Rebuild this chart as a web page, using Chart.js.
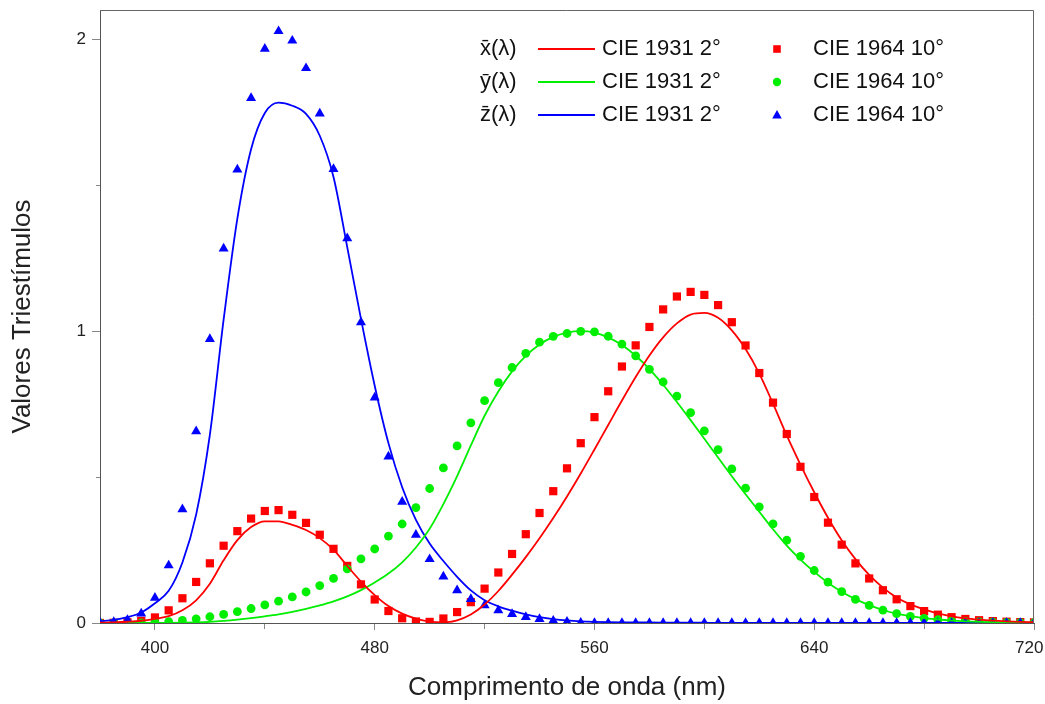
<!DOCTYPE html>
<html lang="pt">
    <head>
        <meta charset="UTF-8">
        <title>Funções de correspondência de cor CIE</title>
        <style>
            body {
                margin: 0;
                background-color: #ffffff;
            }

            #chart-container {
                position: relative;
                width: 1045px;
                height: 704px;
            }
        </style>
    </head>
    <body>
        <div id="chart-container">
            <canvas id="myChart" width="1045" height="704"></canvas>
        </div>
        <script src="https://cdn.jsdelivr.net/npm/chart.js"></script>
        <script>
            //comprimentos de onda (nm), passo de 5 nm
            let wavelengths = [380, 385, 390, 395, 400, 405, 410, 415, 420, 425, 430, 435, 440, 445, 450, 455, 460, 465, 470, 475,
                               480, 485, 490, 495, 500, 505, 510, 515, 520, 525, 530, 535, 540, 545, 550, 555, 560, 565, 570, 575,
                               580, 585, 590, 595, 600, 605, 610, 615, 620, 625, 630, 635, 640, 645, 650, 655, 660, 665, 670, 675,
                               680, 685, 690, 695, 700, 705, 710, 715, 720];

            //observador padrao CIE 1931 2 graus
            let xBar1931 = [0.001368, 0.002236, 0.004243, 0.007650, 0.014310, 0.023190, 0.043510, 0.077630, 0.134380, 0.214770,
                            0.283900, 0.328500, 0.348280, 0.348060, 0.336200, 0.318700, 0.290800, 0.251100, 0.195360, 0.142100,
                            0.095640, 0.057950, 0.032010, 0.014700, 0.004900, 0.002400, 0.009300, 0.029100, 0.063270, 0.109600,
                            0.165500, 0.225750, 0.290400, 0.359700, 0.433450, 0.512050, 0.594500, 0.678400, 0.762100, 0.842500,
                            0.916300, 0.978600, 1.026300, 1.056700, 1.062200, 1.045600, 1.002600, 0.938400, 0.854450, 0.751400,
                            0.642400, 0.541900, 0.447900, 0.360800, 0.283500, 0.218700, 0.164900, 0.121200, 0.087400, 0.063600,
                            0.046770, 0.032900, 0.022700, 0.015840, 0.011359, 0.008111, 0.005790, 0.004109, 0.002899];
            let yBar1931 = [0.000039, 0.000064, 0.000120, 0.000217, 0.000396, 0.000640, 0.001210, 0.002180, 0.004000, 0.007300,
                            0.011600, 0.016840, 0.023000, 0.029800, 0.038000, 0.048000, 0.060000, 0.073900, 0.090980, 0.112600,
                            0.139020, 0.169300, 0.208020, 0.258600, 0.323000, 0.407300, 0.503000, 0.608200, 0.710000, 0.793200,
                            0.862000, 0.914850, 0.954000, 0.980300, 0.994950, 1.000000, 0.995000, 0.978600, 0.952000, 0.915400,
                            0.870000, 0.816300, 0.757000, 0.694900, 0.631000, 0.566800, 0.503000, 0.441200, 0.381000, 0.321000,
                            0.265000, 0.217000, 0.175000, 0.138200, 0.107000, 0.081600, 0.061000, 0.044580, 0.032000, 0.023200,
                            0.017000, 0.011920, 0.008210, 0.005723, 0.004102, 0.002929, 0.002091, 0.001484, 0.001047];
            let zBar1931 = [0.006450, 0.010550, 0.020050, 0.036210, 0.067850, 0.110200, 0.207400, 0.371300, 0.645600, 1.039050,
                            1.385600, 1.622960, 1.747060, 1.782600, 1.772110, 1.744100, 1.669200, 1.528100, 1.287640, 1.041900,
                            0.812950, 0.616200, 0.465180, 0.353300, 0.272000, 0.212300, 0.158200, 0.111700, 0.078250, 0.057250,
                            0.042160, 0.029840, 0.020300, 0.013400, 0.008750, 0.005750, 0.003900, 0.002750, 0.002100, 0.001800,
                            0.001650, 0.001400, 0.001100, 0.001000, 0.000800, 0.000600, 0.000340, 0.000240, 0.000190, 0.000100,
                            0.000050, 0.000030, 0.000020, 0.000010, 0, 0, 0, 0, 0, 0,
                            0, 0, 0, 0, 0, 0, 0, 0, 0];

            //observador suplementar CIE 1964 10 graus
            let xBar1964 = [0.000160, 0.000662, 0.002362, 0.007242, 0.019110, 0.043400, 0.084736, 0.140638, 0.204492, 0.264737,
                            0.314679, 0.357719, 0.383734, 0.386726, 0.370702, 0.342957, 0.302273, 0.254085, 0.195618, 0.132349,
                            0.080507, 0.041072, 0.016172, 0.005132, 0.003816, 0.015444, 0.037465, 0.071358, 0.117749, 0.172953,
                            0.236491, 0.304213, 0.376772, 0.451584, 0.529826, 0.616053, 0.705224, 0.793832, 0.878655, 0.951162,
                            1.014160, 1.074300, 1.118520, 1.134300, 1.123990, 1.089100, 1.030480, 0.950740, 0.856297, 0.754930,
                            0.647467, 0.535110, 0.431567, 0.343690, 0.268329, 0.204300, 0.152568, 0.112210, 0.081261, 0.057930,
                            0.040851, 0.028623, 0.019941, 0.013842, 0.009577, 0.006605, 0.004553, 0.003145, 0.002175];
            let yBar1964 = [0.000017, 0.000072, 0.000253, 0.000769, 0.002004, 0.004509, 0.008756, 0.014456, 0.021391, 0.029497,
                            0.038676, 0.049602, 0.062077, 0.074704, 0.089456, 0.106256, 0.128201, 0.152761, 0.185190, 0.219940,
                            0.253589, 0.297665, 0.339133, 0.395379, 0.460777, 0.531360, 0.606741, 0.685660, 0.761757, 0.823330,
                            0.875211, 0.923810, 0.961988, 0.982200, 0.991761, 0.999110, 0.997340, 0.982380, 0.955552, 0.915175,
                            0.868934, 0.825623, 0.777405, 0.720353, 0.658341, 0.593878, 0.527963, 0.461834, 0.398057, 0.339554,
                            0.283493, 0.228254, 0.179828, 0.140211, 0.107633, 0.081187, 0.060281, 0.044096, 0.031800, 0.022602,
                            0.015905, 0.011130, 0.007749, 0.005375, 0.003718, 0.002565, 0.001768, 0.001222, 0.000846];
            let zBar1964 = [0.000705, 0.002928, 0.010482, 0.032344, 0.086011, 0.197120, 0.389366, 0.656760, 0.972542, 1.282500,
                            1.553480, 1.798500, 1.967280, 2.027300, 1.994800, 1.900700, 1.745370, 1.554900, 1.317560, 1.030200,
                            0.772125, 0.570060, 0.415254, 0.302356, 0.218502, 0.159249, 0.112044, 0.082248, 0.060709, 0.043050,
                            0.030451, 0.020584, 0.013676, 0.007918, 0.003988, 0.001091, 0, 0, 0, 0,
                            0, 0, 0, 0, 0, 0, 0, 0, 0, 0,
                            0, 0, 0, 0, 0, 0, 0, 0, 0, 0,
                            0, 0, 0, 0, 0, 0, 0, 0, 0];

            let xTicks = [400, 440, 480, 520, 560, 600, 640, 680, 720];    //marcas do eixo x, rotulo a cada 80 nm
            let yTicks = [0, 0.5, 1, 1.5, 2];                              //marcas do eixo y, rotulo nos inteiros

            let legendSymbols = ['x\u0304(\u03bb)', 'y\u0304(\u03bb)', 'z\u0304(\u03bb)'];
            let legendLine = 'CIE 1931 2\u00b0';
            let legendMarker = 'CIE 1964 10\u00b0';

            let colors = ['#ff0000', '#00ee00', '#0000ff'];
            let markerStyles = ['rect', 'circle', 'triangle'];
            let fontFamily = '"Liberation Sans", Arial, sans-serif';

            function toPoints(values) {
                return wavelengths.map((w, i) => ({x: w, y: values[i]}));
            }

            //curvas 1931 (linhas) por cima dos marcadores 1964
            let lineSets = [xBar1931, yBar1931, zBar1931].map((vals, i) => ({
                label: legendSymbols[i] + ' ' + legendLine,
                data: toPoints(vals),
                showLine: true,
                borderColor: colors[i],
                borderWidth: 1.8,
                pointRadius: 0,
                cubicInterpolationMode: 'monotone',
                order: 0
            }));

            let markerSets = [xBar1964, yBar1964, zBar1964].map((vals, i) => ({
                label: legendSymbols[i] + ' ' + legendMarker,
                data: toPoints(vals),
                showLine: false,
                pointStyle: markerStyles[i],
                pointRadius: [5.8, 4.4, 5.8][i],
                pointBackgroundColor: colors[i],
                pointBorderWidth: 0,
                order: [3, 2, 1][i]
            }));

            //moldura superior e direita
            const frame = {
                id: 'frame',
                afterDraw(chart) {
                    const {ctx, chartArea: a} = chart;
                    ctx.save();
                    ctx.strokeStyle = '#666';
                    ctx.lineWidth = 1;
                    ctx.beginPath();
                    ctx.moveTo(a.left, a.top + 0.5);
                    ctx.lineTo(a.right - 0.5, a.top + 0.5);
                    ctx.lineTo(a.right - 0.5, a.bottom);
                    ctx.stroke();
                    ctx.restore();
                }
            };

            //legenda em tres linhas: simbolo, linha 1931, marcador 1964
            const cmfLegend = {
                id: 'cmfLegend',
                afterDraw(chart) {
                    const ctx = chart.ctx;
                    const rows = [49, 82, 115];
                    ctx.save();
                    ctx.font = '22px ' + fontFamily;
                    ctx.textBaseline = 'middle';
                    ctx.textAlign = 'left';
                    rows.forEach((y, i) => {
                        ctx.fillStyle = '#111';
                        ctx.fillText(legendSymbols[i], 480, y);
                        ctx.fillText(legendLine, 602, y);
                        ctx.fillText(legendMarker, 813, y);

                        ctx.strokeStyle = colors[i];
                        ctx.lineWidth = 1.8;
                        ctx.beginPath();
                        ctx.moveTo(538, y);
                        ctx.lineTo(595, y);
                        ctx.stroke();

                        const mx = 777;
                        ctx.fillStyle = colors[i];
                        ctx.beginPath();
                        if (i === 0) {
                            ctx.rect(mx - 3.8, y - 3.8, 7.6, 7.6);
                        } else if (i === 1) {
                            ctx.arc(mx, y, 4.2, 0, Math.PI * 2);
                        } else {
                            ctx.moveTo(mx, y - 5);
                            ctx.lineTo(mx + 4.8, y + 3.5);
                            ctx.lineTo(mx - 4.8, y + 3.5);
                            ctx.closePath();
                        }
                        ctx.fill();
                    });
                    ctx.restore();
                }
            };

            const config = {
                type: 'scatter',
                data: {
                    datasets: lineSets.concat(markerSets)
                },
                options: {
                    responsive: false,
                    animation: false,
                    events: [],
                    layout: {
                        padding: {top: 10, right: 11, bottom: 0, left: 0}
                    },
                    scales: {
                        x: {
                            type: 'linear',
                            position: 'bottom',
                            min: 380,
                            max: 720,
                            afterBuildTicks: s => { s.ticks = xTicks.map(v => ({value: v})); },
                            afterFit: s => { s.height = 81; s.paddingLeft = 0; s.paddingRight = 0; },
                            ticks: {
                                autoSkip: false,
                                maxRotation: 0,
                                padding: 8,
                                color: '#222',
                                font: {family: fontFamily, size: 17},
                                //o ultimo rotulo fica recuado para caber na tela
                                callback: v => v % 80 === 0 ? (v === 720 ? '720  ' : String(v)) : ''
                            },
                            grid: {
                                drawOnChartArea: false,
                                tickLength: 7,
                                tickColor: '#888',
                                tickBorderDash: c => (c.tick && c.tick.value % 80 !== 0) ? [5, 30] : []
                            },
                            border: {color: '#555', width: 1},
                            title: {
                                display: true,
                                text: 'Comprimento de onda (nm)',
                                color: '#222',
                                font: {family: fontFamily, size: 26},
                                padding: {top: 0, bottom: 1}
                            }
                        },
                        y: {
                            type: 'linear',
                            min: 0,
                            max: 2.1,
                            afterBuildTicks: s => { s.ticks = yTicks.map(v => ({value: v})); },
                            afterFit: s => { s.width = 100; s.paddingTop = 0; s.paddingBottom = 0; },
                            ticks: {
                                padding: 6,
                                color: '#222',
                                font: {family: fontFamily, size: 17},
                                callback: v => Number.isInteger(v) ? String(v) : ''
                            },
                            grid: {
                                drawOnChartArea: false,
                                tickLength: 8,
                                tickColor: '#888',
                                //marcas menores: so os 4 px junto ao eixo
                                tickBorderDash: c => (c.tick && !Number.isInteger(c.tick.value)) ? [0, 4, 4, 30] : []
                            },
                            border: {color: '#555', width: 1},
                            title: {
                                display: true,
                                text: 'Valores Triestímulos',
                                color: '#222',
                                font: {family: fontFamily, size: 26},
                                padding: {top: 7, bottom: 0}
                            }
                        }
                    },
                    plugins: {
                        legend: {display: false},
                        tooltip: {enabled: false}
                    }
                },
                plugins: [frame, cmfLegend]
            };

            const myChart = new Chart(document.getElementById('myChart'), config);
        </script>
    </body>
</html>
